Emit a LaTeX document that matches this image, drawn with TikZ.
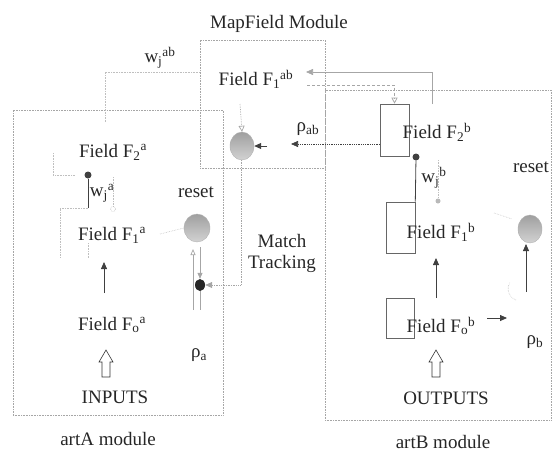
\documentclass[tikz,border=0pt]{standalone}
\usepackage{fontspec}
\setmainfont{Liberation Serif}
\usetikzlibrary{arrows.meta,shapes.geometric}
\begin{document}
\begin{tikzpicture}[x=1pt,y=-1pt,
  lbl/.style={font=\fontsize{19}{21}\selectfont, inner sep=0pt, text=black!85},
  modbox/.style={draw=gray!70, densely dotted, line width=0.6pt, inner sep=0pt},
  fbox/.style={draw=black!60, line width=0.6pt, inner sep=0pt},
  faint/.style={draw=gray!50, densely dotted, line width=0.6pt},
  dwire/.style={draw=black!75, line width=0.8pt},
  gwire/.style={draw=gray!70, line width=0.7pt},
  dtip/.style={-{Triangle[length=7pt,width=6pt]}},
  otip/.style={-{Triangle[open,length=6pt,width=6pt]}},
  blob/.style={ellipse, inner sep=0pt, top color=gray!75, bottom color=gray!35, draw=gray!60, line width=0.4pt},
  bdot/.style={circle, fill=black!75, inner sep=0pt, minimum size=7pt},
  hollow/.style={draw=black!80, line width=0.6pt, fill=white}
]
\useasboundingbox (0,0) rectangle (553,453);

% module boxes
\node[modbox, minimum width=210pt, minimum height=305pt] (artA) at (118,262.5) {};
\node[modbox, minimum width=226pt, minimum height=330pt] (artB) at (438,255) {};
\node[modbox, minimum width=125pt, minimum height=128pt] (mapF) at (262.5,104) {};

% field boxes of artB
\node[fbox, minimum width=29pt, minimum height=52pt] (F2bbox) at (394.5,130) {};
\node[fbox, minimum width=29pt, minimum height=51pt] (F1bbox) at (400.5,227.5) {};
\node[fbox, minimum width=28pt, minimum height=40pt] (F0bbox) at (400,318) {};

% labels
\node[lbl] (title) at (279,24) {MapField Module};
\node[lbl] (wab) at (160,58) {w\textsubscript{j}\textsuperscript{ab}};
\node[lbl] (F1ab) at (256,79) {Field F\textsubscript{1}\textsuperscript{ab}};
\node[lbl] (rhoab) at (308,129) {ρ\textsubscript{ab}};
\node[lbl] (F2b) at (437,132) {Field F\textsubscript{2}\textsuperscript{b}};
\node[lbl] (F2a) at (113,152) {Field F\textsubscript{2}\textsuperscript{a}};
\node[lbl] (wja) at (102,193) {w\textsubscript{j}\textsuperscript{a}};
\node[lbl] (reseta) at (196,192) {reset};
\node[lbl] (F1a) at (112,235) {Field F\textsubscript{1}\textsuperscript{a}};
\node[lbl] (F0a) at (112,325) {Field F\textsubscript{o}\textsuperscript{a}};
\node[lbl] (inputs) at (115,397) {INPUTS};
\node[lbl] (artAl) at (108,439) {artA module};
\node[lbl] (rhoa) at (199,355) {ρ\textsubscript{a}};
\node[lbl, align=center] (match) at (282,253) {Match\\Tracking};
\node[lbl] (resetb) at (531,167) {reset};
\node[lbl] (wjb) at (434,178) {w\textsubscript{j}\textsuperscript{b}};
\node[lbl] (F1b) at (441,232) {Field F\textsubscript{1}\textsuperscript{b}};
\node[lbl] (F0b) at (441,326) {Field F\textsubscript{o}\textsuperscript{b}};
\node[lbl] (rhob) at (535,342) {ρ\textsubscript{b}};
\node[lbl] (outputs) at (446,398) {OUTPUTS};
\node[lbl] (artBl) at (443,442) {artB module};

% ellipses and dots
\node[blob, minimum width=24pt, minimum height=28pt] (mapE) at (242,146) {};
\node[blob, minimum width=26pt, minimum height=28pt] (resetA) at (197,228) {};
\node[blob, minimum width=24pt, minimum height=28pt] (resetB) at (530,229) {};
\node[ellipse, fill=black!85, inner sep=0pt, minimum width=10pt, minimum height=12pt] (dotA) at (200,285) {};
\node[bdot] (dot1) at (88,175) {};
\node[bdot] (dot2) at (416,157) {};

% coordinates for free ends
\coordinate (wabA) at (105,122);
\coordinate (wabB) at (105,72);
\coordinate (wabC) at (200,72);
\coordinate (topR) at (432,104);
\coordinate (topL) at (306,72);
\coordinate (midL) at (307,85);
\coordinate (rhoS) at (380,144);
\coordinate (rhoE) at (291,144);
\coordinate (mapR) at (267,146);
\coordinate (mapT) at (240,104);
\coordinate (mtC) at (241,285);
\coordinate (mtT) at (241,160);
\coordinate (rl1) at (193,310);
\coordinate (rl2) at (193,249);
\coordinate (rr1) at (200,247);
\coordinate (rr2) at (200,310);
\coordinate (f1aR) at (160,234);
\coordinate (upA1) at (104,293);
\coordinate (upA2) at (104,262);
\coordinate (d1b) at (88,208);
\coordinate (upB1) at (436,298);
\coordinate (upB2) at (436,258);
\coordinate (f0bR1) at (487,318);
\coordinate (f0bR2) at (507,318);
\coordinate (rsB1) at (526,292);
\coordinate (rsB2) at (526,244);

% MapField connections
\draw[faint] (wabA) -- (wabB) -- (wabC);
\draw[gwire, dtip] (topR) -- (432,72) -- (topL);
\draw[gwire, densely dashed, otip] (midL) -| (F2bbox.north);
\draw[dwire, densely dotted, line width=0.7pt, dtip] (rhoS) -- (rhoE);
\draw[dwire, dtip] (mapR) -- (mapE.east);
\draw[gwire, densely dotted, otip] (mapT) -- (mapE.north);
\draw[gwire, densely dotted, -{Triangle[length=7pt,width=6pt]}] (mtT) -- (mtC) -- (dotA.east);

% artA connections
\draw[gwire, -{Triangle[open,length=6pt,width=5pt]}] (rl1) -- (rl2);
\draw[gwire, -{Triangle[length=6pt,width=5pt]}] (rr1) -- (dotA.north);
\draw[gwire] (dotA.south) -- (rr2);
\draw[faint] (f1aR) -- (resetA.west);
\draw[dwire, dtip] (upA1) -- (upA2);
\draw[dwire] (dot1) -- (d1b);
\draw[faint] (d1b) -- (60,208) -- (60,258);
\draw[faint] (53,153) -- (53,175) -- (75,175);
\draw[faint] (88,243) -- (88,258);
\draw[faint] (113,177) -- (113,206);
\draw[faint] (113,209) circle (2.5pt);

% artB connections
\draw[dwire] (dot2) -- (F1bbox.north east);
\draw[faint] (438,160) -- (438,198);
\fill[gray!55] (438,201) circle (2.5pt);
\draw[dwire, dtip] (upB1) -- (upB2);
\draw[dwire, dtip] (f0bR1) -- (f0bR2);
\draw[dwire, dtip] (rsB1) -- (rsB2);
\draw[faint] (516,300) arc (110:210:12);
\draw[faint] (494,213) -- (512,219);

% hollow input/output arrows
\draw[hollow] (102,377) -- (102,362) -- (99,362) -- (106,350) -- (113,362) -- (110,362) -- (110,377) -- cycle;
\draw[hollow] (432,377) -- (432,362) -- (429,362) -- (436,350) -- (443,362) -- (440,362) -- (440,377) -- cycle;
\end{tikzpicture}
\end{document}
